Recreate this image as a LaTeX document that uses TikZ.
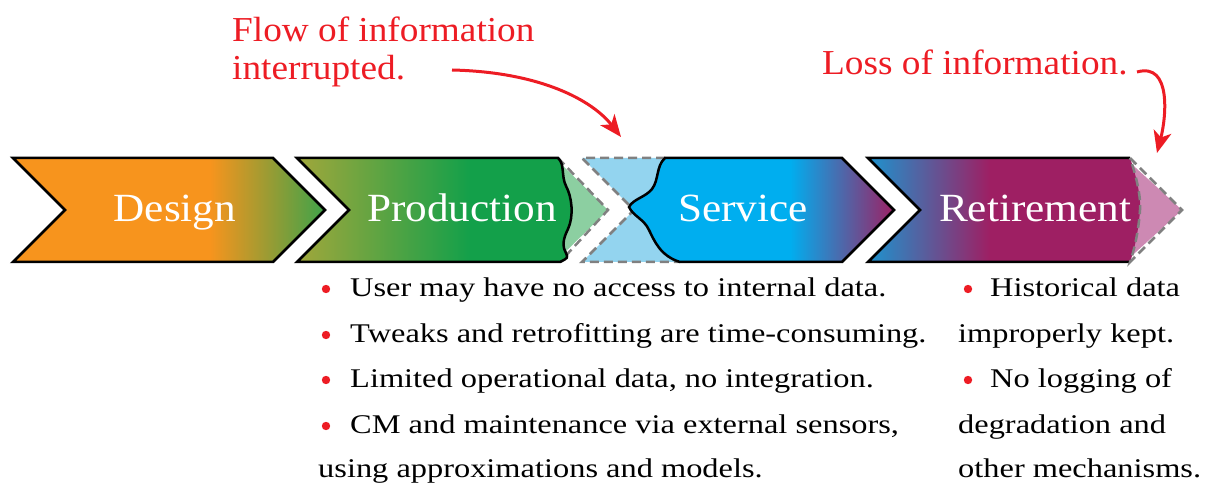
\documentclass[tikz,border=0pt]{standalone}
\usepackage{fontspec}
\setmainfont{Liberation Serif}
\newfontfamily\bulfont[FakeStretch=1.2]{Liberation Serif}
\newfontfamily\annfont[FakeStretch=1.065]{Liberation Serif}
\newfontfamily\stagefont[FakeStretch=1.08]{Liberation Serif}
\usetikzlibrary{arrows.meta}
\definecolor{dorange}{HTML}{F7941D}
\definecolor{dgreen}{HTML}{3DA34A}
\definecolor{polive}{HTML}{A2A73B}
\definecolor{pgreen}{HTML}{13A04A}
\definecolor{lgreen}{HTML}{8CCFA1}
\definecolor{scyan}{HTML}{00AEEF}
\definecolor{lblue}{HTML}{93D4EF}
\definecolor{rpurple}{HTML}{9E1F63}
\definecolor{rblue}{HTML}{1C94CF}
\definecolor{lpink}{HTML}{CD89B3}
\definecolor{annred}{HTML}{ED1C24}
\definecolor{dashgray}{HTML}{808080}
\def\designP{(13,158) -- (273,158) -- (325,210) -- (273,262) -- (13,262) -- (65,210) -- cycle}
\def\prodP{(297,158) -- (558,158) .. controls (565,164) and (561,176) .. (566,186) .. controls (572,197) and (574,216) .. (568,229) .. controls (563,239) and (562,246) .. (566,253) .. controls (568,258) .. (560,262) -- (297,262) -- (349,210) -- cycle}
\def\servP{(665,158) -- (842,158) -- (894,210) -- (842,262) -- (680,262) .. controls (660,256) and (654,240) .. (649,230) .. controls (644,219) and (633,216) .. (629,207) .. controls (633,199) and (646,197) .. (652,189) .. controls (659,180) and (656,166) .. (665,158) -- cycle}
\def\retP{(868,158) -- (1130,158) .. controls (1137,178) and (1141,198) .. (1140,210) .. controls (1139,225) and (1136,245) .. (1130,262) -- (868,262) -- (920,210) -- cycle}
\begin{document}
\begin{tikzpicture}[x=1pt,y=-1pt,
  outline/.style={draw=black,line width=2.5pt},
  dashline/.style={draw=dashgray,line width=2.5pt,dash pattern=on 9pt off 5pt},
  stagelabel/.style={anchor=base,inner sep=0pt,text=white,font=\stagefont\fontsize{40}{44}\selectfont},
  bultext/.style={anchor=base west,inner sep=0pt,font=\bulfont\fontsize{27}{30}\selectfont},
  anntext/.style={anchor=base west,inner sep=0pt,text=annred,font=\annfont\fontsize{35}{40}\selectfont},
  bulletdot/.style={fill=annred},
  redarrow/.style={draw=annred,line width=3pt,-{Stealth[length=22pt,width=18pt,inset=6pt]}}]
\useasboundingbox (0,0) rectangle (1205,486);
% ---------- Design
\begin{scope}
  \clip \designP;
  \fill[dorange] (0,150) rectangle (210,270);
  \shade[left color=dorange,right color=dgreen] (210,150) rectangle (326,270);
\end{scope}
\draw[outline] \designP;
\node[stagelabel] (design) at (175,222) {Design};
% ---------- Production
\fill[lgreen] (555,158) -- (608,210) -- (555,262) -- cycle;
\draw[dashline] (558,158) -- (608,210) -- (560,262);
\begin{scope}
  \clip \prodP;
  \shade[left color=polive,right color=pgreen] (296,150) rectangle (470,270);
  \fill[pgreen] (470,150) rectangle (580,270);
\end{scope}
\draw[outline] \prodP;
\node[stagelabel] (production) at (462,222) {Production};
% ---------- Service
\fill[lblue] (582,158) -- (690,158) -- (690,262) -- (582,262) -- (634,210) -- cycle;
\draw[dashline] (665,158) -- (582,158) -- (634,210) -- (582,262) -- (680,262);
\begin{scope}
  \clip \servP;
  \fill[scyan] (620,150) rectangle (790,270);
  \shade[left color=scyan,right color=rpurple] (790,150) rectangle (895,270);
\end{scope}
\draw[outline] \servP;
\node[stagelabel] (service) at (743,222) {Service};
% ---------- Retirement
\fill[lpink] (1125,158) -- (1182,210) -- (1125,262) -- cycle;
\begin{scope}
  \clip \retP;
  \shade[left color=rblue,right color=rpurple] (867,150) rectangle (990,270);
  \fill[rpurple] (990,150) rectangle (1145,270);
\end{scope}
\draw[outline] (1130,158) -- (868,158) -- (920,210) -- (868,262) -- (1130,262);
\draw[dashline] (1130,158) -- (1182,210) -- (1130,262) .. controls (1136,245) and (1139,225) .. (1140,210) .. controls (1141,198) and (1137,178) .. (1130,158);
\node[stagelabel] (retirement) at (1035,222) {Retirement};
% ---------- Annotations
\node[anntext] (flow1) at (232,42) {Flow of information};
\node[anntext] (flow2) at (232,80) {interrupted.};
\node[anntext] (loss) at (822,75) {Loss of information.};
\coordinate (flowstart) at (452,70);
\coordinate (flowend) at (621,137);
\coordinate (lossstart) at (1137,72);
\coordinate (lossend) at (1157,153);
\draw[redarrow] (flowstart) .. controls (540,72) and (592,100) .. (flowend);
\draw[redarrow] (lossstart) .. controls (1172,62) and (1166,118) .. (lossend);
% ---------- Bullets, production/service
\fill[bulletdot] (326,289) circle (4.2);
\fill[bulletdot] (326,335) circle (4.2);
\fill[bulletdot] (326,380) circle (4.2);
\fill[bulletdot] (326,426) circle (4.2);
\node[bultext] (b1) at (350,297) {User may have no access to internal data.};
\node[bultext] (b2) at (350,342) {Tweaks and retrofitting are time-consuming.};
\node[bultext] (b3) at (350,387) {Limited operational data, no integration.};
\node[bultext] (b4) at (350,433) {CM and maintenance via external sensors,};
\node[bultext] (b5) at (318,477) {using approximations and models.};
% ---------- Bullets, retirement
\fill[bulletdot] (968,289) circle (4.2);
\fill[bulletdot] (968,380) circle (4.2);
\node[bultext] (r1) at (990,297) {Historical data};
\node[bultext] (r2) at (958,342) {improperly kept.};
\node[bultext] (r3) at (990,387) {No logging of};
\node[bultext] (r4) at (958,433) {degradation and};
\node[bultext] (r5) at (958,477) {other mechanisms.};
\end{tikzpicture}
\end{document}
